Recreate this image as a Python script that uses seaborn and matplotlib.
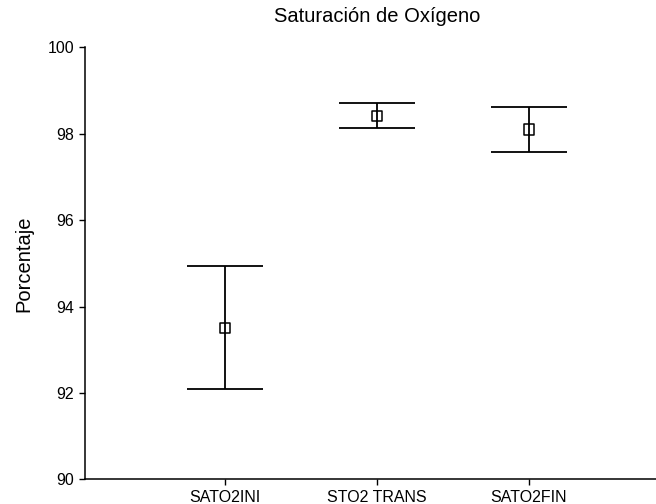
import numpy as np
import pandas as pd
import matplotlib
matplotlib.use("Agg")
import matplotlib.pyplot as plt
import seaborn as sns

categories = ["SATO2INI", "STO2 TRANS", "SATO2FIN"]
means = [93.50, 98.41, 98.10]
lower = [92.10, 98.13, 97.58]
upper = [94.93, 98.72, 98.62]
yticks = [90, 92, 94, 96, 98, 100]

sns.set_style("ticks")
plt.rcParams["font.family"] = ["Liberation Sans", "DejaVu Sans"]

fig = plt.figure(figsize=(6.56, 5.04), dpi=100)
ax = fig.add_axes([0.1296, 0.049, 0.890, 0.857])

pos = np.arange(len(categories))
df = pd.DataFrame({"pos": pos, "mean": means})

ax.vlines(pos, lower, upper, color="black", lw=1.3, zorder=2)
ax.hlines(lower, pos - 0.25, pos + 0.25, color="black", lw=1.3, zorder=2)
ax.hlines(upper, pos - 0.25, pos + 0.25, color="black", lw=1.3, zorder=2)
sns.scatterplot(data=df, x="pos", y="mean", marker="s", s=55,
                facecolor="none", edgecolor="black", linewidth=1.1,
                ax=ax, zorder=3, legend=False)

ax.set_xlim(-0.92, 2.92)
ax.set_ylim(90, 100)
ax.set_xticks(pos)
ax.set_xticklabels(categories)
ax.set_yticks(yticks)
ax.set_yticklabels([str(v) for v in yticks])
ax.tick_params(axis="both", labelsize=11.5, length=4, width=1, color="black",
               labelcolor="black", pad=4)
for s in ["left", "bottom"]:
    ax.spines[s].set_linewidth(1.1)
    ax.spines[s].set_color("black")
sns.despine(ax=ax)
ax.set_xlabel("")
ax.set_ylabel("Porcentaje", fontsize=14.5, color="black")
ax.yaxis.set_label_coords(-0.089, 0.5)
ax.set_title("Saturación de Oxígeno", fontsize=14.5, color="black", pad=18)

fig.savefig("out.png", dpi=100)
